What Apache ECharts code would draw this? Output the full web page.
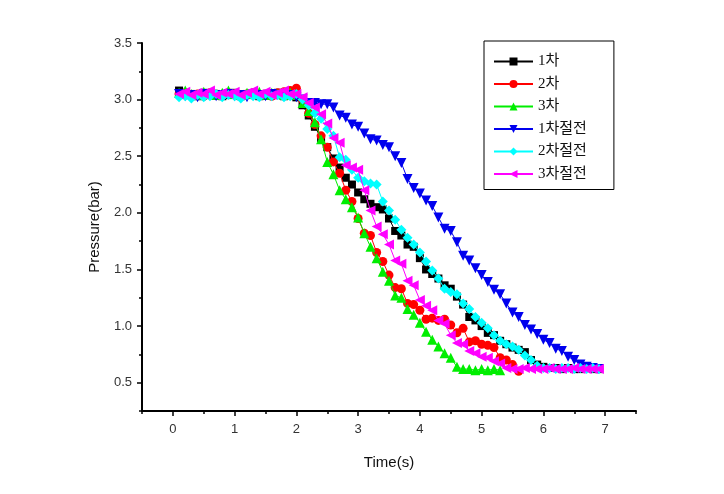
<!DOCTYPE html>
<html><head><meta charset="utf-8">
<script src="https://cdn.jsdelivr.net/npm/echarts@6/dist/echarts.min.js"></script>
<style>html,body{margin:0;padding:0;background:#fff}#c{width:724px;height:494px}</style>
</head><body><div id="c"></div>
<script>
const times = [0.1,0.2,0.3,0.4,0.5,0.6,0.7,0.8,0.9,1.0,1.1,1.2,1.3,1.4,1.5,1.6,1.7,1.8,1.9,
  2.0,2.1,2.2,2.3,2.4,2.5,2.6,2.7,2.8,2.9,3.0,3.1,3.2,3.3,3.4,3.5,3.6,3.7,3.8,3.9,
  4.0,4.1,4.2,4.3,4.4,4.5,4.6,4.7,4.8,4.9,5.0,5.1,5.2,5.3,5.4,5.5,5.6,5.7,5.8,5.9,
  6.0,6.1,6.2,6.3,6.4,6.5,6.6,6.7,6.8,6.9];
const seriesNames = ['1차','2차','3차','1차절전','2차절전','3차절전'];
const p1 = [3.08,3.04,3.05,3.03,3.06,3.04,3.05,3.03,3.04,3.06,3.03,3.05,3.04,3.03,3.05,3.04,3.06,3.03,3.05,
  3.02,2.95,2.86,2.76,2.66,2.58,2.48,2.40,2.31,2.25,
  2.18,2.12,2.08,2.05,2.03,1.95,1.84,1.80,1.72,1.70,
  1.60,1.50,1.46,1.42,1.36,1.33,1.26,1.19,1.08,1.05,
  1.00,0.94,0.92,0.87,0.84,0.81,0.79,0.77,0.70,0.66,
  0.64,0.63,0.63,0.62,0.63,0.62,0.62,0.63,0.62,0.62];
const p2 = [3.05,3.06,3.04,3.05,3.03,3.06,3.05,3.04,3.06,3.05,3.03,3.05,3.06,3.04,3.05,3.03,3.06,3.07,3.08,
  3.10,3.00,2.88,2.78,2.68,2.58,2.45,2.35,2.20,2.10,
  1.95,1.82,1.80,1.65,1.57,1.45,1.34,1.33,1.20,1.19,
  1.14,1.06,1.07,1.05,1.06,1.01,0.94,0.98,0.86,0.87,
  0.84,0.83,0.81,0.72,0.70,0.66,0.60];
const p3 = [3.06,3.08,3.05,3.04,3.07,3.05,3.04,3.06,3.08,3.05,3.04,3.06,3.05,3.07,3.04,3.06,3.05,3.04,3.06,
  3.04,2.97,2.90,2.80,2.65,2.45,2.34,2.20,2.12,2.05,
  1.96,1.82,1.70,1.60,1.48,1.40,1.27,1.25,1.15,1.10,
  1.03,0.95,0.88,0.82,0.76,0.72,0.64,0.62,0.62,0.61,
  0.62,0.61,0.62,0.61];
const p4 = [3.05,3.03,3.04,3.02,3.05,3.04,3.03,3.04,3.05,3.03,3.04,3.02,3.05,3.04,3.03,3.05,3.04,3.03,3.04,
  3.02,3.00,2.97,2.97,2.96,2.96,2.93,2.86,2.84,2.78,
  2.76,2.70,2.65,2.64,2.60,2.58,2.50,2.44,2.30,2.22,
  2.17,2.11,2.06,1.96,1.86,1.84,1.74,1.62,1.58,1.51,
  1.45,1.39,1.32,1.28,1.20,1.12,1.08,1.01,0.97,0.93,
  0.88,0.85,0.80,0.78,0.73,0.70,0.66,0.64,0.63,0.62];
const p5 = [3.02,3.03,3.01,3.04,3.02,3.03,3.05,3.02,3.04,3.03,3.01,3.04,3.03,3.02,3.05,3.03,3.04,3.02,3.03,
  3.05,3.00,2.95,2.88,2.83,2.74,2.68,2.49,2.47,2.38,
  2.31,2.28,2.26,2.25,2.10,2.02,1.94,1.85,1.78,1.72,
  1.65,1.57,1.49,1.42,1.33,1.30,1.28,1.20,1.15,1.08,
  1.03,0.98,0.92,0.87,0.84,0.82,0.79,0.74,0.70,0.65,
  0.63,0.63,0.62,0.63,0.63,0.62,0.63,0.62,0.63,0.62];
const p6 = [3.05,3.07,3.04,3.06,3.05,3.08,3.04,3.06,3.05,3.07,3.04,3.06,3.08,3.05,3.07,3.04,3.06,3.08,3.05,
  3.05,3.02,2.97,2.93,2.87,2.79,2.66,2.62,2.42,2.40,
  2.38,2.20,2.02,1.88,1.81,1.72,1.58,1.55,1.40,1.36,
  1.23,1.18,1.14,1.05,1.02,0.92,0.85,0.84,0.78,0.76,
  0.73,0.72,0.69,0.67,0.63,0.62,0.62,0.63,0.62,0.62,
  0.62,0.63,0.62,0.62,0.62,0.63,0.62,0.62,0.62,0.62];
const xMajorTicks = [0,1,2,3,4,5,6,7];
const xMinorTicks = [-0.5,0.5,1.5,2.5,3.5,4.5,5.5,6.5,7.5];
const yMajorTicks = [0.5,1.0,1.5,2.0,2.5,3.0,3.5];
const yMinorTicks = [0.25,0.75,1.25,1.75,2.25,2.75,3.25];

const allValues = [p1,p2,p3,p4,p5,p6];
const colors = ['#000000','#ff0000','#00ee00','#0000ee','#00ffff','#ff00ff'];
const symbols = ['rect','circle','triangle','triangle','diamond','triangle'];
const rotates = [0,0,0,180,0,90];
const sizes = [8,9,10,10,10,10];

const chart = echarts.init(document.getElementById('c'), null, {renderer:'canvas'});
const axisCommon = {
  type:'value', splitLine:{show:false},
  axisLine:{show:true, onZero:false, lineStyle:{color:'#000', width:2}},
};
const series = allValues.map((vals, k) => ({
  name: seriesNames[k], type:'line',
  data: vals.map((v,i)=>[times[i], v]),
  symbol: symbols[k], symbolSize: sizes[k], symbolRotate: rotates[k],
  itemStyle:{color: colors[k]},
  lineStyle:{color: colors[k], width:1},
  showAllSymbol:true, animation:false, z: 2+k
}));
chart.setOption({
  animation:false,
  backgroundColor:'#fff',
  grid:{left:142, right:88, top:43, bottom:83, containLabel:false},
  legend:{
    orient:'vertical', left:484, top:41,
    data: seriesNames,
    itemWidth:39, itemHeight:10, itemGap:7.5,
    padding:[13,27,8,9],
    borderColor:'#000', borderWidth:1, backgroundColor:'#fff',
    textStyle:{fontFamily:"'Liberation Serif','Noto Sans CJK KR',serif", fontSize:15, color:'#111'}
  },
  xAxis:[
    Object.assign({}, axisCommon, {
      min:-0.5, max:7.5, position:'bottom',
      name:'Time(s)', nameLocation:'middle', nameGap:44,
      nameTextStyle:{fontFamily:"'Liberation Sans',Arial,sans-serif", fontSize:15, color:'#111'},
      axisTick:{show:true, inside:false, length:5, customValues:xMajorTicks, lineStyle:{color:'#000', width:1.5}},
      axisLabel:{show:true, margin:12, customValues:xMajorTicks, fontFamily:"'Liberation Sans',Arial,sans-serif", fontSize:13, color:'#333',
        formatter:(v)=>String(Math.round(v))}
    }),
    Object.assign({}, axisCommon, {
      min:-0.5, max:7.5, position:'bottom',
      axisLine:{show:false, onZero:false},
      axisTick:{show:true, length:3, customValues:xMinorTicks, lineStyle:{color:'#000', width:1.5}},
      axisLabel:{show:false}
    })
  ],
  yAxis:[
    Object.assign({}, axisCommon, {
      min:0.25, max:3.5, position:'left',
      name:'Pressure(bar)', nameLocation:'middle', nameGap:40, nameRotate:90,
      nameTextStyle:{fontFamily:"'Liberation Sans',Arial,sans-serif", fontSize:15, color:'#111'},
      axisTick:{show:true, length:5, customValues:yMajorTicks, lineStyle:{color:'#000', width:1.5}},
      axisLabel:{show:true, margin:10, customValues:yMajorTicks, fontFamily:"'Liberation Sans',Arial,sans-serif", fontSize:13, color:'#333',
        formatter:(v)=>v.toFixed(1)}
    }),
    Object.assign({}, axisCommon, {
      min:0.25, max:3.5, position:'left',
      axisLine:{show:false, onZero:false},
      axisTick:{show:true, length:3, customValues:yMinorTicks, lineStyle:{color:'#000', width:1.5}},
      axisLabel:{show:false}
    })
  ],
  series: series
});
</script></body></html>
